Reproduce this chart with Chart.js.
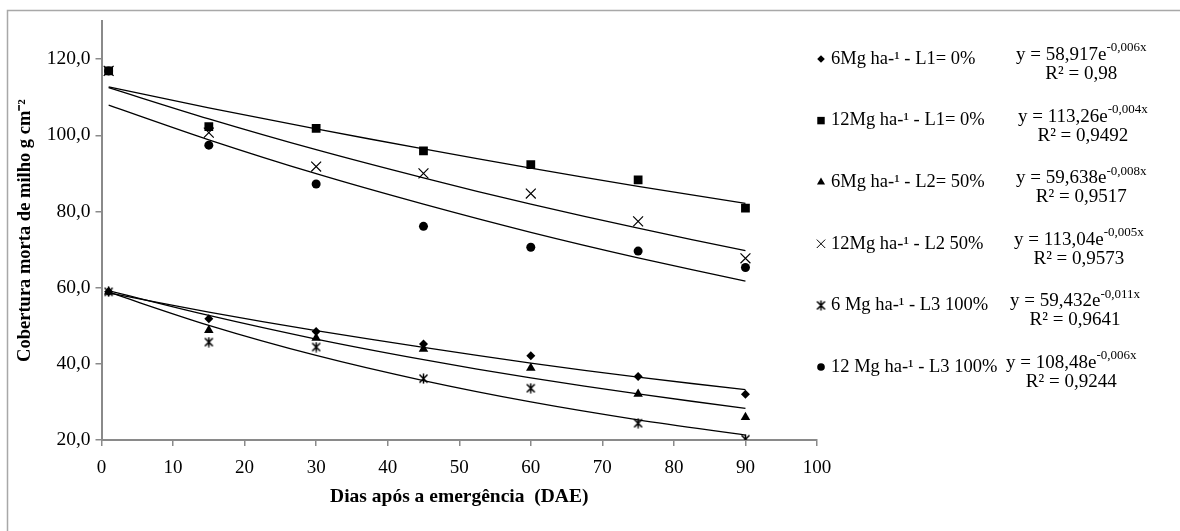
<!DOCTYPE html>
<html>
<head>
<meta charset="utf-8">
<script src="https://cdn.jsdelivr.net/npm/chart.js@4.4.0/dist/chart.umd.min.js"></script>
<style>
  html, body { margin: 0; padding: 0; background: #fff; }
</style>
</head>
<body>
<canvas id="chart" width="1180" height="531"></canvas>
<script>
// dias após a emergência
const days = [1, 15, 30, 45, 60, 75, 90];

const obs6L1  = [58.9, 51.8, 48.5, 45.2, 42.1, 36.7, 32.0];
const obs12L1 = [116.9, 102.3, 101.8, 95.9, 92.3, 88.3, 80.9];
const obs6L2  = [58.9, 48.8, 46.8, 43.9, 38.9, 32.1, 26.0];
const obs12L2 = [116.9, 100.7, 91.8, 90.0, 84.7, 77.4, 67.7];
const obs6L3  = [58.9, 45.7, 44.4, 36.1, 33.6, 24.4, 20.2];
const obs12L3 = [116.9, 97.4, 87.2, 76.1, 70.6, 69.6, 65.3];

// linhas de tendência
const tr6L1  = [58.6, 53.6, 48.7, 44.3, 40.2, 36.5, 33.2];
const tr12L1 = [112.7, 107.2, 101.7, 96.4, 91.4, 86.6, 82.1];
const tr6L2  = [59.2, 52.7, 46.5, 41.1, 36.3, 32.1, 28.3];
const tr12L2 = [112.5, 104.3, 96.2, 88.8, 81.9, 75.6, 69.7];
const tr6L3  = [58.8, 50.1, 42.2, 35.6, 30.0, 25.3, 21.3];
const tr12L3 = [107.9, 98.8, 89.9, 81.9, 74.5, 67.8, 61.7];

const labels = ['6Mg ha-¹ - L1= 0%', '12Mg ha-¹ - L1= 0%', '6Mg ha-¹ - L2= 50%',
                '12Mg ha-¹ - L2 50%', '6 Mg ha-¹ - L3 100%', '12 Mg ha-¹ - L3 100%'];
const eqCoef = ['58,917', '113,26', '59,638', '113,04', '59,432', '108,48'];
const eqExp = ['-0,006x', '-0,004x', '-0,008x', '-0,005x', '-0,011x', '-0,006x'];
const r2 = ['0,98', '0,9492', '0,9517', '0,9573', '0,9641', '0,9244'];

const yTicks = [20, 40, 60, 80, 100, 120];
const xTicks = [0, 10, 20, 30, 40, 50, 60, 70, 80, 90, 100];

const SERIF = "'Liberation Serif', 'Times New Roman', serif";
const AXIS_GREY = '#8a8a8a';

// marcador "asterisco" do Excel: X com barra vertical
function makeStar() {
    const c = document.createElement('canvas');
    c.width = 11; c.height = 11;
    const g = c.getContext('2d');
    g.strokeStyle = '#000';
    g.lineWidth = 1.5;
    g.beginPath();
    g.moveTo(1.5, 1.5); g.lineTo(9.5, 9.5);
    g.moveTo(9.5, 1.5); g.lineTo(1.5, 9.5);
    g.moveTo(5.5, 0.5); g.lineTo(5.5, 10.5);
    g.stroke();
    return c;
}
const starImg = makeStar();

const toPts = vals => days.map((d, i) => ({ x: d, y: vals[i] }));

function obsSet(label, vals, style, radius, bw) {
    return {
        label: label,
        data: toPts(vals),
        showLine: false,
        pointStyle: style,
        pointRadius: radius,
        pointHoverRadius: radius,
        backgroundColor: '#000',
        borderColor: '#000',
        pointBorderWidth: bw
    };
}
function trendSet(vals) {
    return {
        label: 'trend',
        data: toPts(vals),
        showLine: true,
        pointRadius: 0,
        borderColor: '#000',
        borderWidth: 1.3,
        tension: 0.3,
        fill: false
    };
}

const obsSets = [
    obsSet(labels[0], obs6L1, 'rectRot', 4.5, 0),
    obsSet(labels[1], obs12L1, 'rect', 6.2, 0),
    obsSet(labels[2], obs6L2, 'triangle', 5.5, 0),
    obsSet(labels[3], obs12L2, 'crossRot', 7, 1.2),
    obsSet(labels[4], obs6L3, starImg, 5, 0),
    obsSet(labels[5], obs12L3, 'circle', 4.5, 0)
];

const trendSets = [tr6L1, tr12L1, tr6L2, tr12L2, tr6L3, tr12L3].map(trendSet);

// legenda lateral com equações
const sideLegend = {
    id: 'sideLegend',
    beforeDraw(chart) {
        const ctx = chart.ctx;
        ctx.save();
        ctx.strokeStyle = '#a8a8a8';
        ctx.lineWidth = 1.5;
        ctx.beginPath();
        ctx.moveTo(7.5, 531);
        ctx.lineTo(7.5, 10.5);
        ctx.lineTo(1180, 10.5);
        ctx.stroke();
        ctx.restore();
    },
    afterDraw(chart) {
        const ctx = chart.ctx;
        const mx = 821, tx = 831;
        const eqX = [1016, 1018, 1016, 1014, 1010, 1006];
        ctx.save();
        ctx.textBaseline = 'middle';
        obsSets.forEach((ds, i) => {
            const y = 59 + i * 61.6;
            ctx.fillStyle = '#000';
            ctx.strokeStyle = '#000';
            if (Chart.helpers && Chart.helpers.drawPoint) {
                Chart.helpers.drawPoint(ctx, {
                    pointStyle: ds.pointStyle,
                    radius: ds.pointRadius * 0.85,
                    rotation: 0,
                    borderWidth: ds.pointBorderWidth
                }, mx, y);
            }
            ctx.fillStyle = '#000';
            ctx.font = '18.5px ' + SERIF;
            ctx.textAlign = 'left';
            ctx.fillText(ds.label, tx, y);

            // equação
            const main = 'y = ' + eqCoef[i] + 'e';
            ctx.font = '19px ' + SERIF;
            const w1 = ctx.measureText(main).width;
            ctx.font = '13px ' + SERIF;
            const w2 = ctx.measureText(eqExp[i]).width;
            const ex = eqX[i];
            const ey = y - 4;
            ctx.font = '19px ' + SERIF;
            ctx.fillText(main, ex, ey);
            ctx.font = '13px ' + SERIF;
            ctx.fillText(eqExp[i], ex + w1, ey - 7);
            const cx = ex + (w1 + w2) / 2;
            ctx.font = '19px ' + SERIF;
            ctx.textAlign = 'center';
            ctx.fillText('R² = ' + r2[i], cx, y + 15);
        });
        ctx.restore();
    }
};

new Chart(document.getElementById('chart'), {
    type: 'scatter',
    data: { datasets: [...obsSets, ...trendSets] },
    options: {
        responsive: false,
        animation: false,
        layout: { padding: { top: 21, right: 363, left: 0, bottom: 0 } },
        plugins: {
            legend: { display: false },
            tooltip: { enabled: false }
        },
        scales: {
            x: {
                type: 'linear',
                min: 0,
                max: 100,
                afterBuildTicks: s => { s.ticks = xTicks.map(v => ({ value: v })); },
                afterFit: s => { s.height = 91; },
                ticks: {
                    color: '#000',
                    font: { family: SERIF, size: 19 },
                    padding: 11,
                    maxRotation: 0
                },
                grid: { drawOnChartArea: false, color: AXIS_GREY, tickLength: 6, lineWidth: 1.5 },
                border: { color: AXIS_GREY, width: 2 },
                title: {
                    display: true,
                    text: 'Dias após a emergência  (DAE)',
                    color: '#000',
                    font: { family: SERIF, size: 19.5, weight: 'bold' },
                    padding: { top: 0, bottom: 22 }
                }
            },
            y: {
                type: 'linear',
                min: 20,
                max: 130,
                afterBuildTicks: s => { s.ticks = yTicks.map(v => ({ value: v })); },
                afterFit: s => { s.width = 101.5; },
                ticks: {
                    color: '#000',
                    font: { family: SERIF, size: 19.5 },
                    padding: 5,
                    callback: v => v.toFixed(1).replace('.', ',')
                },
                grid: { drawOnChartArea: false, color: AXIS_GREY, tickLength: 6, lineWidth: 1.5 },
                border: { color: AXIS_GREY, width: 2 },
                title: {
                    display: true,
                    text: 'Cobertura morta de milho g cm⁻²',
                    color: '#000',
                    font: { family: SERIF, size: 18.5, weight: 'bold' },
                    padding: { top: 14, bottom: 0 }
                }
            }
        }
    },
    plugins: [sideLegend]
});
</script>
</body>
</html>
